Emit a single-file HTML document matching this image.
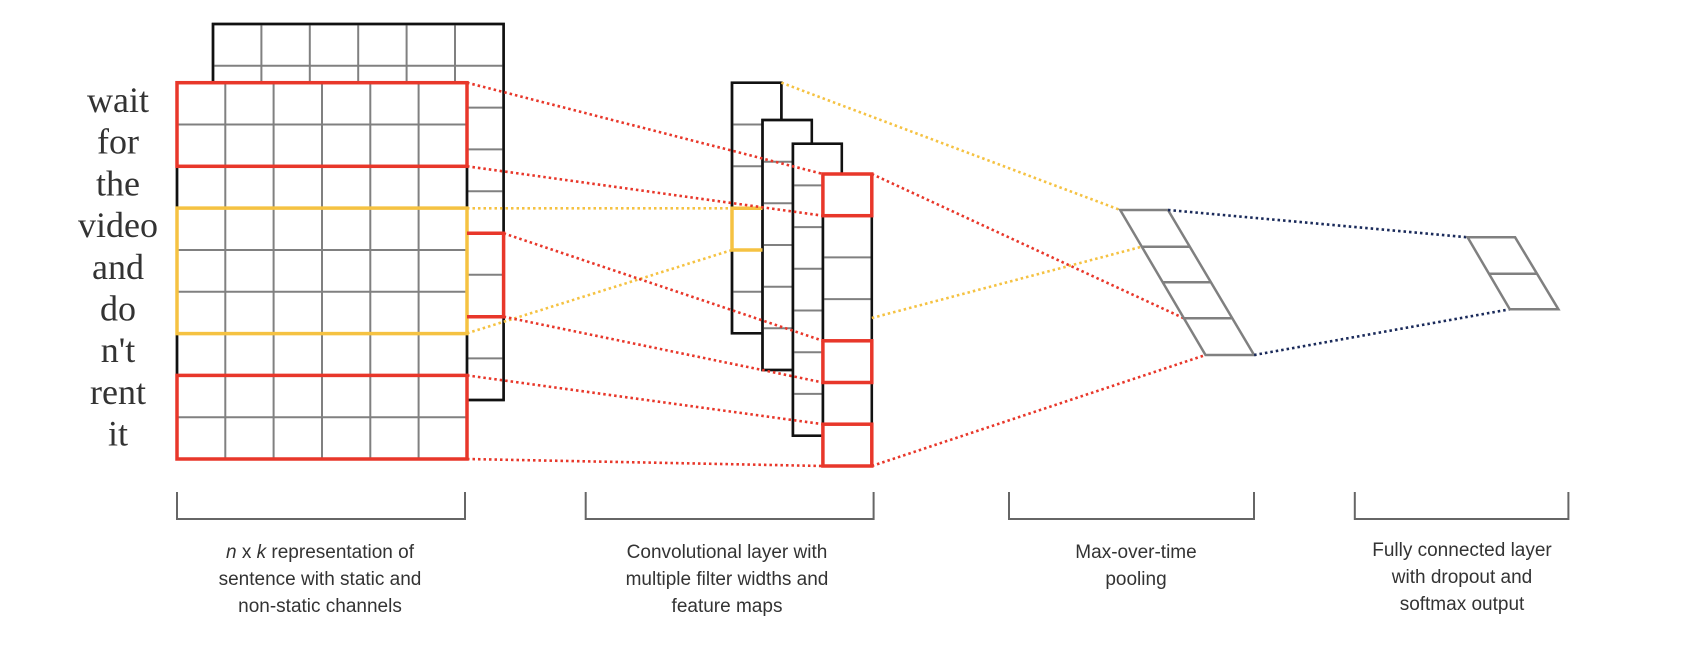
<!DOCTYPE html>
<html><head><meta charset="utf-8"><style>
html,body{margin:0;padding:0;background:#fff;}
svg{display:block;}
</style></head><body>
<svg width="1682" height="672" viewBox="0 0 1682 672" xmlns="http://www.w3.org/2000/svg">
<defs>
<style>
.g{stroke:#808080;stroke-width:2;fill:none}
.b{stroke:#111;stroke-width:2.5;fill:#fff}
.r{stroke:#e8372a;stroke-width:3.5;fill:none}
.y{stroke:#f5c242;stroke-width:3.5;fill:none}
.dr{stroke:#e8372a;stroke-width:2.6;stroke-dasharray:2.5 3;fill:none}
.dy{stroke:#f5c242;stroke-width:2.6;stroke-dasharray:2.5 3;fill:none}
.dn{stroke:#1a2a5a;stroke-width:2.6;stroke-dasharray:2.5 3;fill:none}
.w{font-family:"Liberation Serif",serif;font-size:36px;fill:#333;text-anchor:middle}
.t{font-family:"Liberation Sans",sans-serif;font-size:19px;fill:#333;text-anchor:middle}
.br{stroke:#666;stroke-width:2;fill:none}
</style>
</defs>

<!-- back grid -->
<rect class="b" x="213" y="24" width="290.6" height="376"/>
<g class="g">
<line x1="261.4" y1="24" x2="261.4" y2="400"/><line x1="309.8" y1="24" x2="309.8" y2="400"/>
<line x1="358.2" y1="24" x2="358.2" y2="400"/><line x1="406.6" y1="24" x2="406.6" y2="400"/>
<line x1="455" y1="24" x2="455" y2="400"/>
<line x1="213" y1="65.8" x2="503" y2="65.8"/><line x1="213" y1="107.6" x2="503" y2="107.6"/>
<line x1="213" y1="149.4" x2="503" y2="149.4"/><line x1="213" y1="191.2" x2="503" y2="191.2"/>
<line x1="213" y1="233" x2="503" y2="233"/><line x1="213" y1="274.8" x2="503" y2="274.8"/>
<line x1="213" y1="316.6" x2="503" y2="316.6"/><line x1="213" y1="358.4" x2="503" y2="358.4"/>
</g>
<rect x="213" y="24" width="290.6" height="376" fill="none" stroke="#111" stroke-width="2.5"/>

<!-- front grid -->
<rect class="b" x="177" y="82.7" width="290" height="376.3"/>
<g class="g">
<line x1="225.3" y1="82.7" x2="225.3" y2="459"/><line x1="273.6" y1="82.7" x2="273.6" y2="459"/>
<line x1="322" y1="82.7" x2="322" y2="459"/><line x1="370.3" y1="82.7" x2="370.3" y2="459"/>
<line x1="418.6" y1="82.7" x2="418.6" y2="459"/>
<line x1="177" y1="124.5" x2="467" y2="124.5"/><line x1="177" y1="166.3" x2="467" y2="166.3"/>
<line x1="177" y1="208.1" x2="467" y2="208.1"/><line x1="177" y1="250" x2="467" y2="250"/>
<line x1="177" y1="291.8" x2="467" y2="291.8"/><line x1="177" y1="333.6" x2="467" y2="333.6"/>
<line x1="177" y1="375.4" x2="467" y2="375.4"/><line x1="177" y1="417.2" x2="467" y2="417.2"/>
</g>
<rect x="177" y="82.7" width="290" height="376.3" fill="none" stroke="#111" stroke-width="2.5"/>
<rect class="r" x="177" y="82.7" width="290" height="83.6"/>
<rect class="y" x="177" y="208.1" width="290" height="125.5"/>
<rect class="r" x="177" y="375.4" width="290" height="83.6"/>
<polyline class="r" points="467,233.3 503.6,233.3 503.6,316.7 467,316.7"/>

<!-- words -->
<g class="w">
<text x="118" y="112">wait</text>
<text x="118" y="153.5">for</text>
<text x="118" y="195.5">the</text>
<text x="118" y="237">video</text>
<text x="118" y="279">and</text>
<text x="118" y="320.5">do</text>
<text x="118" y="362">n't</text>
<text x="118" y="404">rent</text>
<text x="118" y="445.5">it</text>
</g>

<!-- feature maps -->
<rect class="b" x="732" y="82.7" width="49.4" height="250.6"/>
<g class="g"><line x1="732" y1="124.5" x2="781" y2="124.5"/><line x1="732" y1="166.3" x2="781" y2="166.3"/><line x1="732" y1="208.1" x2="781" y2="208.1"/><line x1="732" y1="250" x2="781" y2="250"/><line x1="732" y1="291.7" x2="781" y2="291.7"/></g>
<rect x="732" y="82.7" width="49.4" height="250.6" fill="none" stroke="#111" stroke-width="2.5"/>

<rect class="b" x="762.5" y="120" width="49.3" height="250"/>
<g class="g"><line x1="762.5" y1="161.7" x2="811.8" y2="161.7"/><line x1="762.5" y1="203.3" x2="811.8" y2="203.3"/><line x1="762.5" y1="245" x2="811.8" y2="245"/><line x1="762.5" y1="286.7" x2="811.8" y2="286.7"/><line x1="762.5" y1="328.3" x2="811.8" y2="328.3"/></g>
<rect x="762.5" y="120" width="49.3" height="250" fill="none" stroke="#111" stroke-width="2.5"/>

<rect class="b" x="792.9" y="143.7" width="48.9" height="292"/>
<g class="g"><line x1="792.9" y1="185.4" x2="841.8" y2="185.4"/><line x1="792.9" y1="227.1" x2="841.8" y2="227.1"/><line x1="792.9" y1="268.8" x2="841.8" y2="268.8"/><line x1="792.9" y1="310.5" x2="841.8" y2="310.5"/><line x1="792.9" y1="352.2" x2="841.8" y2="352.2"/><line x1="792.9" y1="393.9" x2="841.8" y2="393.9"/></g>
<rect x="792.9" y="143.7" width="48.9" height="292" fill="none" stroke="#111" stroke-width="2.5"/>

<rect class="b" x="822.9" y="174" width="48.9" height="292"/>
<g class="g"><line x1="822.9" y1="215.7" x2="871.8" y2="215.7"/><line x1="822.9" y1="257.4" x2="871.8" y2="257.4"/><line x1="822.9" y1="299.1" x2="871.8" y2="299.1"/><line x1="822.9" y1="340.8" x2="871.8" y2="340.8"/><line x1="822.9" y1="382.5" x2="871.8" y2="382.5"/><line x1="822.9" y1="424.2" x2="871.8" y2="424.2"/></g>
<rect x="822.9" y="174" width="48.9" height="292" fill="none" stroke="#111" stroke-width="2.5"/>
<rect class="r" x="822.9" y="174" width="48.9" height="41.7"/>
<rect class="r" x="822.9" y="340.8" width="48.9" height="41.7"/>
<rect class="r" x="822.9" y="424.2" width="48.9" height="41.8"/>
<polyline class="y" points="762.5,208.3 732,208.3 732,250 762.5,250"/>

<!-- connectors left -->
<line class="dr" x1="467" y1="82.7" x2="822.9" y2="174"/>
<line class="dr" x1="467" y1="166.3" x2="822.9" y2="215.7"/>
<line class="dy" x1="467" y1="208.3" x2="732" y2="208.3"/>
<line class="dy" x1="467" y1="333.3" x2="732" y2="250"/>
<line class="dr" x1="503.6" y1="233.3" x2="822.9" y2="340.8"/>
<line class="dr" x1="503.6" y1="316.7" x2="822.9" y2="382.5"/>
<line class="dr" x1="467" y1="375.4" x2="822.9" y2="424.2"/>
<line class="dr" x1="467" y1="459" x2="822.9" y2="466"/>

<!-- connectors to pooling -->
<line class="dy" x1="781.4" y1="82.7" x2="1120.2" y2="210"/>
<line class="dy" x1="871.8" y1="318" x2="1141.8" y2="246.7"/>
<line class="dr" x1="871.8" y1="174" x2="1183.9" y2="318.3"/>
<line class="dr" x1="871.8" y1="466" x2="1205.5" y2="355"/>

<!-- pooling -->
<g stroke="#808080" stroke-width="2.5" fill="none">
<polygon points="1120.2,210 1168,210 1254.1,355 1205.5,355"/>
<line x1="1141.8" y1="246.7" x2="1189.7" y2="246.7"/>
<line x1="1162.7" y1="282.3" x2="1210.6" y2="282.3"/>
<line x1="1183.9" y1="318.3" x2="1232" y2="318.3"/>
</g>
<line class="dn" x1="1168" y1="210" x2="1467.6" y2="237.3"/>
<line class="dn" x1="1254.1" y1="355" x2="1509.8" y2="309.3"/>

<!-- FC -->
<g stroke="#808080" stroke-width="2.5" fill="none">
<polygon points="1467.6,237.3 1515.1,237.3 1558.4,309.3 1509.8,309.3"/>
<line x1="1488.7" y1="273.7" x2="1536.8" y2="273.7"/>
</g>

<!-- brackets -->
<polyline class="br" points="177,492 177,519 465,519 465,492"/>
<polyline class="br" points="585.7,492 585.7,519 873.6,519 873.6,492"/>
<polyline class="br" points="1009,492 1009,519 1254,519 1254,492"/>
<polyline class="br" points="1354.8,492 1354.8,519 1568.4,519 1568.4,492"/>

<!-- labels -->
<g class="t">
<text x="320" y="558"><tspan font-style="italic">n</tspan> x <tspan font-style="italic">k</tspan> representation of</text>
<text x="320" y="585">sentence with static and</text>
<text x="320" y="612">non-static channels</text>
<text x="727" y="558">Convolutional layer with</text>
<text x="727" y="585">multiple filter widths and</text>
<text x="727" y="612">feature maps</text>
<text x="1136" y="558">Max-over-time</text>
<text x="1136" y="585">pooling</text>
<text x="1462" y="556">Fully connected layer</text>
<text x="1462" y="583">with dropout and</text>
<text x="1462" y="610">softmax output</text>
</g>
</svg>
</body></html>
